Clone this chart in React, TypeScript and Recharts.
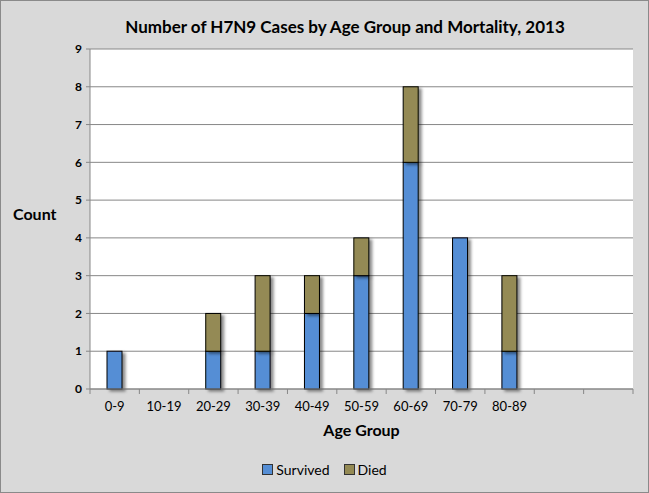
import { BarChart, Bar, XAxis, YAxis, CartesianGrid, Legend } from "recharts";

const categories = ["0-9", "10-19", "20-29", "30-39", "40-49", "50-59", "60-69", "70-79", "80-89", "", ""];
const survived = [1, 0, 1, 1, 2, 3, 6, 4, 1, 0, 0];
const died = [0, 0, 1, 2, 1, 1, 2, 0, 2, 0, 0];
const countTicks = [0, 1, 2, 3, 4, 5, 6, 7, 8, 9];

const data = categories.map((group, i) => ({
  group,
  survived: survived[i],
  died: died[i],
}));

const FONT = "Lato, 'Open Sans', sans-serif";
const GRID = "#878787";

// Excel-style bar: black edge plus a soft shadow to the lower right
function ShadowBar(props: any) {
  const { x, y, width, height, fill } = props;
  if (!height || height <= 0) return null;
  return (
    <rect
      x={x}
      y={y}
      width={width}
      height={height}
      fill={fill}
      stroke="#000"
      strokeWidth={1}
      filter="url(#barShadow)"
    />
  );
}

// tick marks sit on category boundaries, labels in the middle
function GroupTick(props: any) {
  const { x, y, payload, index, visibleTicksCount } = props;
  const half = payload?.offset || 24.7;
  const last = index === (visibleTicksCount ?? categories.length) - 1;
  return (
    <g>
      <line x1={x - half} y1={y} x2={x - half} y2={y + 5} stroke={GRID} />
      {last && <line x1={x + half} y1={y} x2={x + half} y2={y + 5} stroke={GRID} />}
      <text x={x} y={y + 22} textAnchor="middle" fontSize={13} fill="#000" fontFamily={FONT}>
        {payload.value}
      </text>
    </g>
  );
}

function LegendBox() {
  const items = [
    { label: "Survived", color: "#558ed5" },
    { label: "Died", color: "#948a54" },
  ];
  return (
    <div style={{ display: "flex", justifyContent: "center", gap: 14, fontFamily: FONT, fontSize: 14, height: 20, alignItems: "center" }}>
      {items.map((it) => (
        <div key={it.label} style={{ display: "flex", alignItems: "center", gap: 3 }}>
          <div style={{ width: 9, height: 9, background: it.color, border: "1px solid #333" }} />
          <span>{it.label}</span>
        </div>
      ))}
    </div>
  );
}

export default function App() {
  return (
    <div
      style={{
        position: "absolute",
        left: 0,
        top: 0,
        width: 649,
        height: 493,
        background: "#d9d9d9",
        boxShadow: "inset 0 0 0 1px #8a8a8a",
        fontFamily: FONT,
      }}
    >
      <svg width={0} height={0} style={{ position: "absolute" }}>
        <defs>
          <filter id="barShadow" x="-30%" y="-10%" width="180%" height="130%">
            <feDropShadow dx={3} dy={2} stdDeviation={1.6} floodColor="#000" floodOpacity={0.45} />
          </filter>
        </defs>
      </svg>
      <div
        style={{
          position: "absolute",
          top: 16,
          left: 0,
          width: 690,
          textAlign: "center",
          fontWeight: 700,
          fontSize: 17,
          color: "#000",
        }}
      >
        Number of H7N9 Cases by Age Group and Mortality, 2013
      </div>
      <BarChart width={649} height={493} data={data} margin={{ top: 49, right: 16, left: 0, bottom: 24 }}>
        <CartesianGrid vertical={false} stroke={GRID} fill="#fff" />
        <XAxis
          dataKey="group"
          axisLine={{ stroke: GRID }}
          tickLine={false}
          tickSize={0}
          tickMargin={0}
          interval={0}
          height={60}
          tick={<GroupTick />}
          label={{ value: "Age Group", position: "insideBottom", offset: 13, fontSize: 16, fontWeight: 700, fill: "#000", fontFamily: FONT }}
        />
        <YAxis
          domain={[0, 9]}
          ticks={countTicks}
          interval={0}
          width={90}
          axisLine={{ stroke: GRID }}
          tickLine={{ stroke: GRID }}
          tickSize={4}
          tickMargin={4}
          tick={{ fontSize: 12, fontWeight: 700, fill: "#000", fontFamily: FONT }}
          label={{ value: "Count", position: "insideLeft", offset: 13, dy: -5, fontSize: 16, fontWeight: 700, fill: "#000", fontFamily: FONT }}
        />
        <Legend
          verticalAlign="bottom"
          content={<LegendBox />}
          wrapperStyle={{ left: 0, top: 459, width: 649 }}
        />
        <Bar dataKey="survived" name="Survived" stackId="a" fill="#558ed5" barSize={15} shape={<ShadowBar />} isAnimationActive={false} />
        <Bar dataKey="died" name="Died" stackId="a" fill="#948a54" barSize={15} shape={<ShadowBar />} isAnimationActive={false} />
      </BarChart>
    </div>
  );
}
